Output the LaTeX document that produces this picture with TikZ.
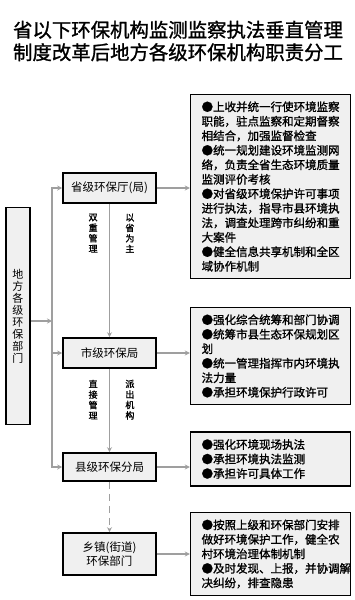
\documentclass[tikz,border=0pt]{standalone}
\usepackage{fontspec}
\setmainfont{Noto Sans CJK SC}
\newfontfamily\heavycjk{Noto Sans CJK SC}[FakeBold=1.2]
\usepackage{tikz}
\usetikzlibrary{arrows.meta, positioning}
\tikzstyle{org} = [rectangle, minimum width=93pt, minimum height=30pt, text centered, draw=black, line width=1.6pt, fill=gray!12, font=\fontsize{11.5}{13.5}\selectfont]
\tikzstyle{duty} = [rectangle, text width=138pt, align=left, inner xsep=11pt, inner ysep=7pt, draw=black, line width=1.6pt, fill=gray!12, font=\heavycjk\fontsize{11.5}{14.5}\selectfont]
\tikzstyle{arrow} = [line width=1.8pt, draw=gray!75, -{Stealth[length=5pt,width=5pt]}]
\tikzstyle{tag} = [font=\heavycjk\fontsize{9}{10.5}\selectfont, align=center, inner sep=0pt]

\begin{document}
\begin{tikzpicture}[x=1pt, y=-1pt]
\path[use as bounding box, fill=white] (0,0) rectangle (355,600);
\node (title) at (178,41) [font=\heavycjk\fontsize{19.4}{22.5}\selectfont, align=center] {省以下环保机构监测监察执法垂直管理\\制度改革后地方各级环保机构职责分工};
\node (local) at (18,316) [rectangle, minimum width=24pt, minimum height=217pt, inner sep=0pt, draw=black, line width=1.6pt, fill=gray!12, align=center, font=\fontsize{11}{12}\selectfont] {地\\方\\各\\级\\环\\保\\部\\门};

\node (prov) at (109.5,188) [org] {省级环保厅(局)};
\node (city) [org, below of=prov, node distance=165pt] {市级环保局};
\node (county) [org, minimum height=28pt, below of=city, node distance=114pt] {县级环保分局};
\node (town) [org, minimum height=42pt, below of=county, node distance=87pt, align=center] {乡镇(街道)\\环保部门};

\node (provduty) [duty, right=33pt of prov, yshift=1.5pt] {●上收并统一行使环境监察\\职能，驻点监察和定期督察\\相结合，加强监督检查\\●统一规划建设环境监测网\\络，负责全省生态环境质量\\监测评价考核\\●对省级环境保护许可事项\\进行执法，指导市县环境执\\法，调查处理跨市纠纷和重\\大案件\\●健全信息共享机制和全区\\域协作机制};
\node (cityduty) [duty, right=33pt of city, yshift=-3pt] {●强化综合统筹和部门协调\\●统筹市县生态环保规划区\\划\\●统一管理指挥市内环境执\\法力量\\●承担环境保护行政许可};
\node (countyduty) [duty, right=33pt of county, yshift=8pt] {●强化环境现场执法\\●承担环境执法监测\\●承担许可具体工作};
\node (townduty) [duty, right=33pt of town] {●按照上级和环保部门安排\\做好环境保护工作，健全农\\村环境治理体制机制\\●及时发现、上报，并协调解\\决纠纷，排查隐患};

% trunk on the left
\coordinate (trunk) at (52,321);
\draw [arrow] (local.east |- trunk) -- (trunk);
\draw [arrow] (trunk) |- (prov);
\draw [arrow] (trunk) |- (city);
\draw [arrow] (trunk) |- (county);

\draw [arrow] (prov) -- node[tag, pos=0.22, left=11pt] {双\\重\\管\\理} node[tag, pos=0.22, right=15pt] {以\\省\\为\\主} (city);
\draw [arrow] (city) -- node[tag, pos=0.37, left=11pt] {直\\接\\管\\理} node[tag, pos=0.37, right=15pt] {派\\出\\机\\构} (county);
\draw [arrow, dash pattern=on 7pt off 5pt] (county) -- (town);

\draw [arrow] (prov.east) -- (prov.east -| provduty.west);
\draw [arrow] (city.east) -- (city.east -| cityduty.west);
\draw [arrow] (county.east) -- (county.east -| countyduty.west);
\draw [arrow] (town.east) -- (town.east -| townduty.west);
\end{tikzpicture}
\end{document}
